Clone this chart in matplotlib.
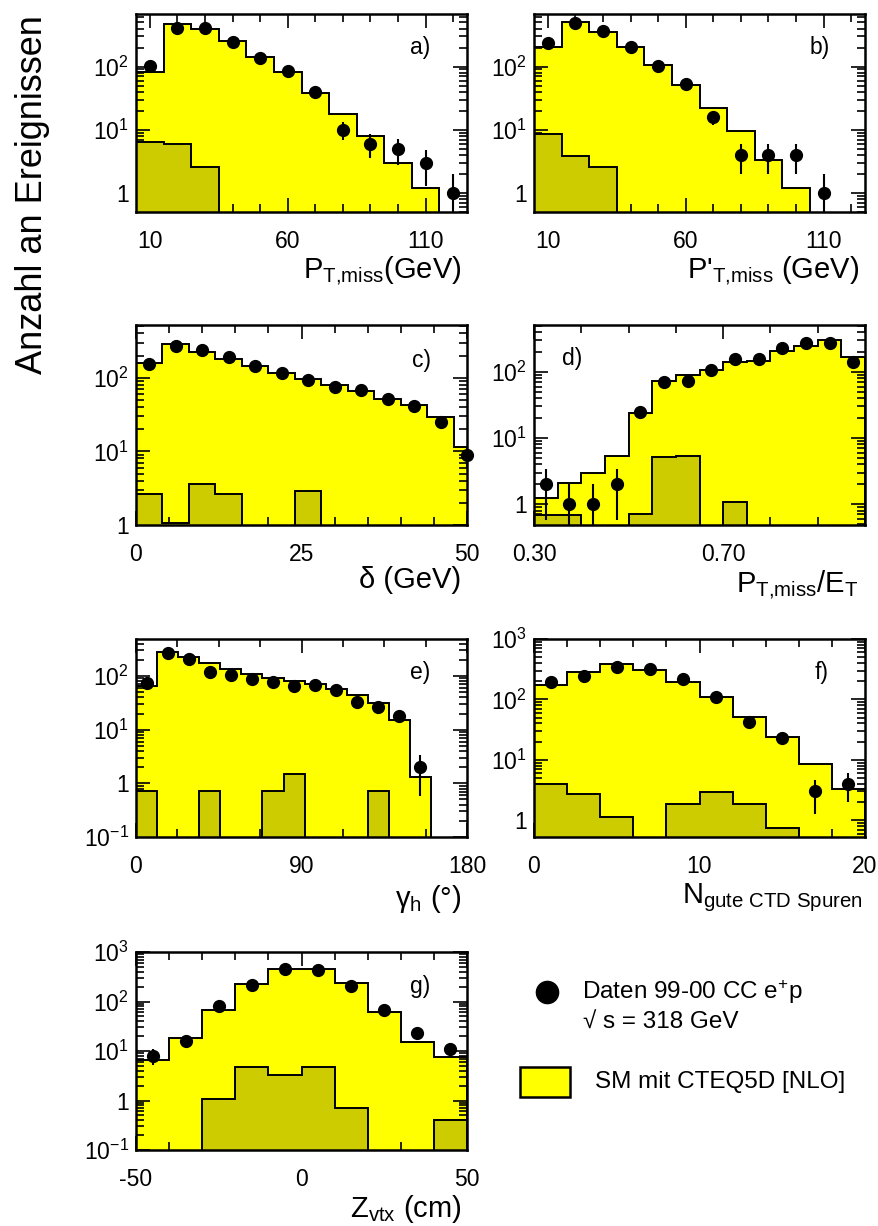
import numpy as np
import matplotlib
matplotlib.use('Agg')
import matplotlib.pyplot as plt
from matplotlib.ticker import LogLocator, FixedLocator, MultipleLocator, FuncFormatter, NullFormatter
from matplotlib.patches import Rectangle

plt.rcParams['font.family'] = ['Liberation Sans', 'DejaVu Sans']
plt.rcParams['mathtext.fontset'] = 'custom'
plt.rcParams['mathtext.rm'] = 'Liberation Sans'
plt.rcParams['mathtext.it'] = 'Liberation Sans:italic'
plt.rcParams['mathtext.bf'] = 'Liberation Sans:bold'
plt.rcParams['mathtext.default'] = 'regular'

YELLOW = '#ffff00'
OLIVE = '#cccc00'

# ---- a) missing transverse momentum -------------------------------------
a_edges = np.arange(5, 126, 10)
a_mc = [81, 472, 393, 257, 144, 83, 38.8, 17.9, 7.85, 2.98, 1.2, 0]
a_bg = [6.5, 5.9, 2.6, 0, 0, 0, 0, 0, 0, 0, 0, 0]
a_data = [102, 408, 412, 248, 137, 86, 40, 10, 6, 5, 3, 1]

# ---- b) corrected missing transverse momentum ---------------------------
b_edges = np.arange(5, 126, 10)
b_mc = [207, 513, 357, 207, 106, 51, 22, 9.4, 3.3, 1.2, 0, 0]
b_bg = [8.5, 3.9, 2.6, 0, 0, 0, 0, 0, 0, 0, 0, 0]
b_data = [233, 483, 370, 202, 104, 53, 16, 4, 4, 4, 1, 0]

# ---- c) delta ------------------------------------------------------------
c_edges = np.arange(0, 53, 4)
c_mc = [160, 291, 224, 181, 144, 117, 97, 79, 67, 52, 42, 29, 11.3]
c_bg = [2.6, 1.07, 3.66, 2.6, 0, 0, 2.9, 0, 0, 0, 0, 0, 0]
c_data = [155, 270, 240, 190, 144, 116, 92, 75, 69, 51, 41, 25, 9]

# ---- d) PT,miss / ET -----------------------------------------------------
d_edges = np.linspace(0.30, 1.00, 15)
d_mc = [1.23, 2.08, 2.96, 5.3, 24, 73, 90, 107, 139, 147, 204, 248, 302, 165]
d_bg = [0.69, 0.69, 0, 0, 0.7, 5.1, 5.3, 0, 1.07, 0, 0, 0, 0, 0]
d_data = [2, 1, 1, 2, 25, 69, 73, 107, 156, 156, 226, 269, 277, 139]

# ---- e) hadronic angle (0.2 rad bins, shown in degrees) ------------------
e_edges = np.degrees(np.arange(0, 15) * 0.2)
e_mc = [66, 284, 229, 172, 133, 109, 93, 81, 71, 57, 44, 31, 15, 1.31]
e_bg = [0.72, 0, 0, 0.72, 0, 0, 0.72, 1.47, 0, 0, 0, 0.72, 0, 0]
e_data = [75, 264, 207, 121, 104, 87, 76, 65, 68, 55, 33, 26, 18, 2]

# ---- f) number of good CTD tracks ----------------------------------------
f_edges = np.arange(0, 21, 2)
f_mc = [173, 280, 385, 306, 196, 108, 52, 23.5, 8.7, 3.35]
f_bg = [3.95, 2.7, 1.14, 0, 1.89, 2.95, 1.89, 0.75, 0, 0]
f_data = [191, 247, 348, 318, 214, 108, 43, 23, 3, 4]

# ---- g) vertex position --------------------------------------------------
g_edges = np.arange(-50, 51, 10)
g_mc = [6.6, 18, 67, 223, 448, 448, 241, 60, 15.4, 7.5]
g_bg = [0, 0, 1.08, 4.7, 3.3, 4.8, 0.72, 0, 0, 0.41]
g_data = [8, 16, 80, 213, 462, 440, 204, 67, 23, 11]

W, H = 879, 1226
fig = plt.figure(figsize=(W / 100, H / 100), dpi=100)

COLS = [136, 534]
ROWS = [(14, 212), (325, 525), (639, 837), (952, 1150)]


def rect(col, row):
    x0 = COLS[col]
    top, bot = ROWS[row]
    return [x0 / W, 1 - bot / H, 331 / W, (bot - top) / H]


def log_fmt(v, pos):
    e = int(round(np.log10(v)))
    if e == 0:
        return '1'
    return r'$10^{%d}$' % e


panels = [
    dict(pos=(0, 0), edges=a_edges, mc=a_mc, bg=a_bg, data=a_data,
         xlim=(5, 125), ylim=(0.5, 680), xmaj=[10, 60, 110], xmin=10, xfmt='%d',
         label=r'P$_{T{,}miss}$(GeV)', lab_off=(-4, -47.5), tag='a)', tag_xy=(0.858, 0.833)),
    dict(pos=(1, 0), edges=b_edges, mc=b_mc, bg=b_bg, data=b_data,
         xlim=(5, 125), ylim=(0.5, 680), xmaj=[10, 60, 110], xmin=10, xfmt='%d',
         label=r"P'$_{T{,}miss}$ (GeV)", lab_off=(-4, -47.5), tag='b)', tag_xy=(0.864, 0.833)),
    dict(pos=(0, 1), edges=c_edges, mc=c_mc, bg=c_bg, data=c_data,
         xlim=(0, 50), ylim=(1, 520), xmaj=[0, 25, 50], xmin=5, xfmt='%d',
         label='δ (GeV)', lab_off=(-4, -45.5), tag='c)', tag_xy=(0.863, 0.825)),
    dict(pos=(1, 1), edges=d_edges, mc=d_mc, bg=d_bg, data=d_data,
         xlim=(0.30, 1.00), ylim=(0.485, 510), xmaj=[0.30, 0.70], xmin=0.1, xfmt='%.2f',
         label=r'P$_{T{,}miss}$/E$_{T}$', lab_off=(-5, -48), tag='d)', tag_xy=(0.114, 0.83)),
    dict(pos=(0, 2), edges=e_edges, mc=e_mc, bg=e_bg, data=e_data,
         xlim=(0, 180), ylim=(0.1, 490), xmaj=[0, 90, 180], xmin=22.5, xfmt='%d',
         label=r'γ$_{h}$ (°)', lab_off=(-4, -50.5), tag='e)', tag_xy=(0.858, 0.83)),
    dict(pos=(1, 2), edges=f_edges, mc=f_mc, bg=f_bg, data=f_data,
         xlim=(0, 20), ylim=(0.53, 1000), xmaj=[0, 10, 20], xmin=2, xfmt='%d',
         label=r'N$_{gute\ CTD\ Spuren}$', lab_off=(-2, -47.5), tag='f)', tag_xy=(0.869, 0.83)),
    dict(pos=(0, 3), edges=g_edges, mc=g_mc, bg=g_bg, data=g_data,
         xlim=(-50, 50), ylim=(0.1, 1000), xmaj=[-50, 0, 50], xmin=10, xfmt='%d',
         label=r'Z$_{vtx}$ (cm)', lab_off=(-4, -48), tag='g)', tag_xy=(0.858, 0.825)),
]

FLOOR = 1e-4

for p in panels:
    ax = fig.add_axes(rect(*p['pos']))
    ax.set_yscale('log')
    edges = np.asarray(p['edges'], dtype=float)
    mc = np.asarray(p['mc'], dtype=float)
    bg = np.asarray(p['bg'], dtype=float)
    data = np.asarray(p['data'], dtype=float)
    centers = 0.5 * (edges[:-1] + edges[1:])

    # Standard Model expectation
    ax.stairs(np.where(mc > 0, mc, FLOOR), edges, baseline=FLOOR, fill=True,
              facecolor=YELLOW, edgecolor='black', linewidth=1.4, zorder=1)
    # background contribution
    ax.stairs(np.where(bg > 0, bg, FLOOR), edges, baseline=FLOOR, fill=True,
              facecolor=OLIVE, edgecolor='black', linewidth=1.4, zorder=3)

    # data points with statistical errors
    m = data > 0
    x, n = centers[m], data[m]
    err = np.sqrt(n)
    ax.vlines(x, np.maximum(n - err, FLOOR), n + err, color='black',
              linewidth=1.5, zorder=5)
    ax.plot(x, n, 'o', color='black', markersize=8.5, zorder=6, clip_on=False)

    ax.set_xlim(*p['xlim'])
    ax.set_ylim(*p['ylim'])

    ax.xaxis.set_major_locator(FixedLocator(p['xmaj']))
    ax.xaxis.set_minor_locator(MultipleLocator(p['xmin']))
    fmt = p['xfmt']
    ax.xaxis.set_major_formatter(FuncFormatter(lambda v, pos, f=fmt: f % v))
    ax.yaxis.set_major_locator(LogLocator(base=10, numticks=20))
    ax.yaxis.set_minor_locator(LogLocator(base=10, subs=np.arange(2, 10), numticks=20))
    ax.yaxis.set_major_formatter(FuncFormatter(log_fmt))
    ax.yaxis.set_minor_formatter(NullFormatter())

    ax.tick_params(which='both', direction='in', top=True, right=True,
                   width=1.2, labelsize=16.5)
    ax.tick_params(which='major', length=10)
    ax.tick_params(which='minor', length=5.5)
    ax.tick_params(axis='x', pad=13)
    ax.tick_params(axis='y', pad=5)
    for s in ax.spines.values():
        s.set_linewidth(1.8)
        s.set_zorder(4)

    ax.annotate(p['label'], xy=(1, 0), xycoords='axes fraction',
                xytext=p['lab_off'], textcoords='offset points',
                ha='right', va='baseline', fontsize=21)
    ax.text(p['tag_xy'][0], p['tag_xy'][1], p['tag'], transform=ax.transAxes,
            ha='center', va='center', fontsize=16.5)

fig.text(33 / W, 1 - 195 / H, 'Anzahl an Ereignissen', rotation=90,
         ha='center', va='center', fontsize=26)

# legend
lg = fig.add_axes([0, 0, 1, 1])
lg.set_xlim(0, W)
lg.set_ylim(H, 0)
lg.axis('off')
lg.plot([547], [992], 'o', color='black', markersize=16)
lg.text(582, 992, r'Daten 99-00 CC e$^{+}$p', ha='left', va='center', fontsize=17.5)
lg.text(583, 1023, '√ s = 318 GeV', ha='left', va='center', fontsize=17.5)
lg.add_patch(Rectangle((520, 1067), 50, 30, facecolor=YELLOW, edgecolor='black', linewidth=1.8))
lg.text(595, 1082, 'SM mit CTEQ5D [NLO]', ha='left', va='center', fontsize=17.5)

fig.savefig('out.png', dpi=100)
